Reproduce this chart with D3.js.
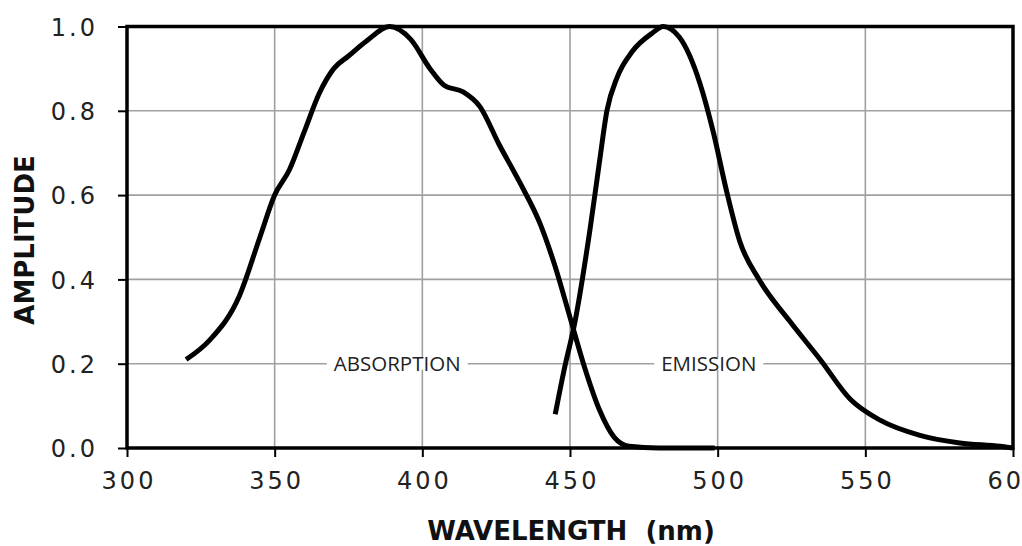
<!DOCTYPE html>
<html><head><meta charset="utf-8">
<script src="https://cdn.jsdelivr.net/npm/d3@7"></script>
<style>
html,body{margin:0;padding:0;background:#fff;overflow:hidden;}
svg{display:block;}
</style></head>
<body>
<svg id="c" width="1022" height="546"></svg>
<script>
const absWavelength = [320,328,338,345,350,355,360,365,370,375,381,389,396,402.6,407.5,413.8,419.5,426,433,440,445,450,455,460,465,470,480,499];
const absAmplitude  = [0.21,0.256,0.36,0.50,0.60,0.66,0.75,0.84,0.90,0.93,0.965,1.0,0.97,0.90,0.86,0.845,0.81,0.72,0.63,0.53,0.43,0.31,0.19,0.09,0.025,0.004,0.0,0.0];
const emWavelength = [445,448,451.7,456.8,460,462.5,466,471,478,481.5,487,494,498.5,503,507.5,514,524.5,534.7,545,555,568.5,582,595.6,600];
const emAmplitude  = [0.08,0.185,0.30,0.52,0.68,0.80,0.88,0.94,0.985,1.0,0.975,0.865,0.75,0.61,0.49,0.40,0.30,0.21,0.115,0.066,0.03,0.012,0.004,0.0];
const xTicks = [300,350,400,450,500,550,600];
const yTicks = [0.0,0.2,0.4,0.6,0.8,1.0];
const curveLabels = [{text:"ABSORPTION", wl:391.5, amp:0.2},{text:"EMISSION", wl:497, amp:0.2}];

const svg = d3.select("#c");
const L=127, R=1013, T=26.5, B=448;
const x = d3.scaleLinear().domain([300,600]).range([L,R]);
const y = d3.scaleLinear().domain([0,1]).range([B,T]);

// grid
const g = svg.append("g");
g.selectAll("line.vg").data(xTicks.slice(1,-1)).join("line")
 .attr("x1",d=>x(d)).attr("x2",d=>x(d)).attr("y1",T).attr("y2",B)
 .attr("stroke","#a0a0a0").attr("stroke-width",1.6);
g.selectAll("line.hg").data(yTicks.slice(1,-1)).join("line")
 .attr("y1",d=>y(d)).attr("y2",d=>y(d)).attr("x1",L).attr("x2",R)
 .attr("stroke","#a0a0a0").attr("stroke-width",1.6);

// curve labels with white background
curveLabels.forEach(c=>{
  const t = svg.append("text").attr("x",x(c.wl)).attr("y",y(c.amp)).attr("dy","0.36em")
    .attr("text-anchor","middle").attr("font-family","'Open Sans', 'DejaVu Sans', sans-serif")
    .attr("font-size",20.5).attr("fill","#222").text(c.text);
  const bb = t.node().getBBox();
  svg.insert("rect","text").attr("x",bb.x-7).attr("y",y(c.amp)-6).attr("width",bb.width+14).attr("height",12).attr("fill","#fff");
});

// axes
const xAxis = d3.axisBottom(x).tickValues(xTicks).tickSize(9).tickFormat(d3.format("d"));
const yAxis = d3.axisLeft(y).tickValues(yTicks).tickSize(9).tickFormat(d3.format(".1f"));
const ax = svg.append("g").attr("transform",`translate(0,${B})`).call(xAxis);
const ay = svg.append("g").attr("transform",`translate(${L},0)`).call(yAxis);
[ax,ay].forEach(a=>{
  a.select(".domain").remove();
  a.selectAll(".tick line").attr("stroke","#000").attr("stroke-width",2);
  a.selectAll(".tick text").attr("font-family","'DejaVu Sans', Verdana, sans-serif")
   .attr("font-size",24).attr("fill","#222").attr("letter-spacing","3px");
});
ax.selectAll(".tick text").attr("dy",null).attr("y",41).attr("dx","1.5px");
ay.selectAll(".tick text").attr("x",-29).attr("dy","0.37em");

// border
svg.append("rect").attr("x",L).attr("y",T).attr("width",R-L).attr("height",B-T)
 .attr("fill","none").attr("stroke","#000").attr("stroke-width",3.5);

// curves
const line = d3.line().x(d=>x(d[0])).y(d=>y(d[1])).curve(d3.curveMonotoneX);
svg.append("path").datum(absWavelength.map((w,i)=>[w,absAmplitude[i]]))
 .attr("d",line).attr("fill","none").attr("stroke","#000").attr("stroke-width",5).attr("stroke-linejoin","round");
svg.append("path").datum(emWavelength.map((w,i)=>[w,emAmplitude[i]]))
 .attr("d",line).attr("fill","none").attr("stroke","#000").attr("stroke-width",5).attr("stroke-linejoin","round");

// titles
svg.append("text").attr("x",571).attr("y",540).attr("text-anchor","middle")
 .attr("font-family","'DejaVu Sans', Verdana, sans-serif").attr("font-weight","bold").attr("font-size",26)
 .attr("fill","#111").style("white-space","pre").text("WAVELENGTH  (nm)");
svg.append("text").attr("transform","translate(25,240) rotate(-90)").attr("dy","0.36em").attr("text-anchor","middle")
 .attr("font-family","'DejaVu Sans', Verdana, sans-serif").attr("font-weight","bold").attr("font-size",26)
 .attr("fill","#111").text("AMPLITUDE");
</script>
</body></html>
